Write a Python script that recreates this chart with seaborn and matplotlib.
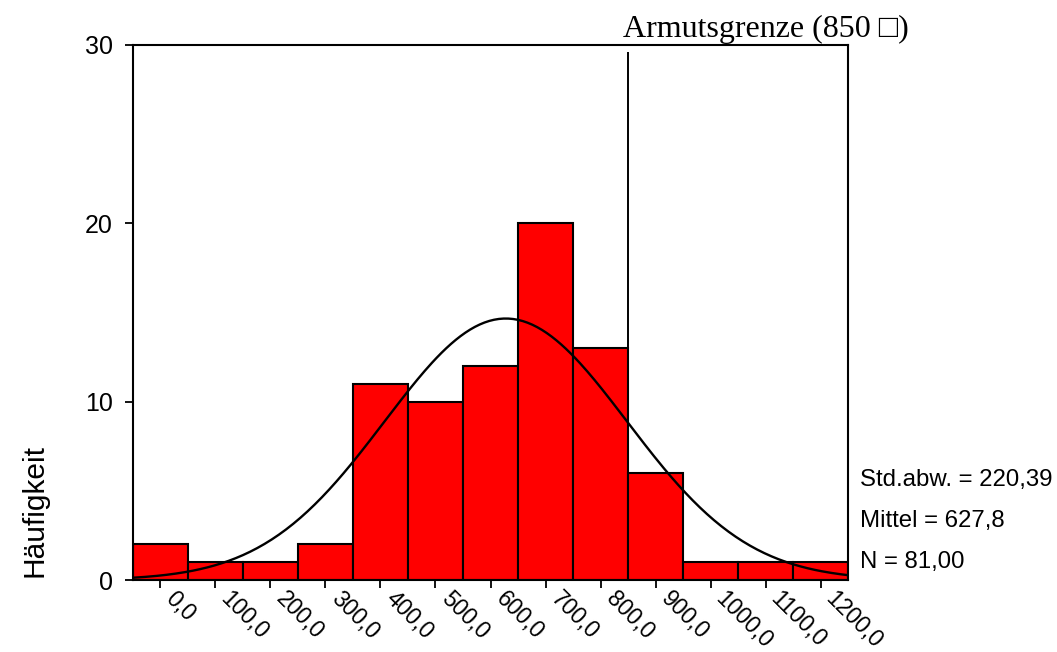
import numpy as np
import pandas as pd
import matplotlib
matplotlib.use("Agg")
import matplotlib.pyplot as plt
import matplotlib.transforms as mtransforms
import seaborn as sns

# --- data ---
bin_centers = [0, 100, 200, 300, 400, 500, 600, 700, 800, 900, 1000, 1100, 1200]
counts = [2, 1, 1, 2, 11, 10, 12, 20, 13, 6, 1, 1, 1]
tick_labels = ["0,0", "100,0", "200,0", "300,0", "400,0", "500,0", "600,0",
               "700,0", "800,0", "900,0", "1000,0", "1100,0", "1200,0"]
y_ticks = [0, 10, 20, 30]

mean_val = 627.8
std_val = 220.39
n_val = 81
bin_width = 100
poverty_line = 850
poverty_top = 29.6

stats_lines = ["Std.abw. = 220,39", "Mittel = 627,8", "N = 81,00"]

sns.set_theme(style="ticks")
plt.rcParams["font.family"] = ["Liberation Sans", "DejaVu Sans"]
plt.rcParams["text.color"] = "black"
plt.rcParams["xtick.color"] = "black"
plt.rcParams["ytick.color"] = "black"

df = pd.DataFrame({"einkommen": bin_centers, "anzahl": counts})
edges = [c - bin_width / 2 for c in bin_centers] + [bin_centers[-1] + bin_width / 2]

fig = plt.figure(figsize=(10.57, 6.52), dpi=100)
ax = fig.add_axes([0.1258, 0.1104, 0.8023 - 0.1258, 0.931 - 0.1104])

sns.histplot(data=df, x="einkommen", weights="anzahl", bins=edges,
             color="#ff0000", alpha=1, edgecolor="black", linewidth=1.5, ax=ax)

# normal curve from the shown statistics
xs = np.linspace(edges[0], edges[-1], 300)
ys = n_val * bin_width / (std_val * np.sqrt(2 * np.pi)) * np.exp(-0.5 * ((xs - mean_val) / std_val) ** 2)
sns.lineplot(x=xs, y=ys, color="black", linewidth=1.7, ax=ax)

# poverty line
ax.vlines(poverty_line, 0, poverty_top, color="black", linewidth=1.4)

ax.set_xlim(edges[0], edges[-1])
ax.set_ylim(0, 30)
ax.set_xticks(bin_centers)
ax.set_xticklabels(tick_labels, rotation=-45, rotation_mode="anchor",
                   ha="left", va="top", fontsize=16.5)
ax.set_yticks(y_ticks)
ax.set_yticklabels([str(v) for v in y_ticks], fontsize=18)
ax.tick_params(axis="both", direction="out", length=5.5, width=1.3, pad=9)
ax.tick_params(axis="x", pad=1)
shift = mtransforms.ScaledTranslation(17 / 100, 2 / 100, fig.dpi_scale_trans)
for lab in ax.get_xticklabels():
    lab.set_transform(lab.get_transform() + shift)
ax.set_xlabel("")
ax.set_ylabel("")
for sp in ax.spines.values():
    sp.set_visible(True)
    sp.set_color("black")
    sp.set_linewidth(1.5)

fig.text(0.033, 0.115, "Häufigkeit", rotation=90, ha="center", va="bottom", fontsize=21.5)

trans = mtransforms.blended_transform_factory(ax.transData, fig.transFigure)
ax.text(840, 1 - 37 / 652, "Armutsgrenze (850 \u25a1)", transform=trans,
        ha="left", va="baseline", fontsize=23,
        family=["Liberation Serif", "DejaVu Serif"])

for txt, yb in zip(stats_lines, [0.2546, 0.1917, 0.1288]):
    fig.text(860 / 1057, yb, txt, ha="left", va="baseline", fontsize=17.3)

fig.savefig("out.png", dpi=100, facecolor="white")
